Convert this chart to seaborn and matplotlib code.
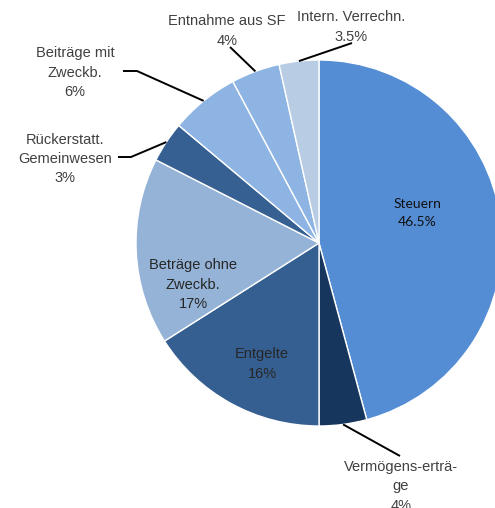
import numpy as np
import matplotlib
matplotlib.use("Agg")
import matplotlib.pyplot as plt
import seaborn as sns

# Anteile am Ertrag (%), im Uhrzeigersinn ab 12 Uhr
categories = [
    "Steuern",
    "Vermögens-erträ-\nge",
    "Entgelte",
    "Beträge ohne\nZweckb.",
    "Rückerstatt.\nGemeinwesen",
    "Beiträge mit\nZweckb.",
    "Entnahme aus SF",
    "Intern. Verrechn.",
]
# wedge sizes; printed labels are rounded
shares = [45.8, 4.2, 16.0, 16.5, 3.6, 6.1, 4.3, 3.5]
pct_labels = ["46.5%", "4%", "16%", "17%", "3%", "6%", "4%", "3.5%"]
colors = ["#548DD4", "#17365D", "#365F91", "#95B3D7",
          "#366092", "#8EB4E3", "#8EB4E3", "#B8CCE4"]

W, H = 495, 508
CX, CY, R = 319, 243, 183  # pixel geometry of the pie (y from top)


def fy(y):
    return H - y


def rim_point(i):
    start = sum(shares[:i])
    mid = (start + shares[i] / 2) / 100 * 2 * np.pi
    return CX + R * np.sin(mid), CY - R * np.cos(mid)


sns.set_theme(style="white")
plt.rcParams["font.family"] = ["Liberation Sans", "DejaVu Sans"]

fig = plt.figure(figsize=(W / 100, H / 100), dpi=100)
ax = fig.add_axes([0, 0, 1, 1])
ax.pie(
    shares,
    colors=colors,
    startangle=90,
    counterclock=False,
    center=(CX, fy(CY)),
    radius=R,
    wedgeprops={"edgecolor": "white", "linewidth": 1.0},
)
ax.set_xlim(0, W)
ax.set_ylim(0, H)
ax.set_aspect("equal")
ax.axis("off")

gray = "#404040"
fs = 10.5
ls = 1.5

# labels inside the wedges
inside = {0: (417, 213), 2: (262, 364), 3: (193, 285)}
for i, (x, y) in inside.items():
    if i == 0:
        ax.text(x, fy(y), f"{categories[i]}\n{pct_labels[i]}", ha="center", va="center",
                fontsize=10, color="#111111", family=["Lato", "DejaVu Sans"], linespacing=1.55)
    else:
        ax.text(x, fy(y), f"{categories[i]}\n{pct_labels[i]}", ha="center", va="center",
                fontsize=fs, color="#262626", linespacing=ls)

# outside labels with leader lines
outside = {
    1: ((401, 486), [(400, 456)]),
    4: ((65, 159), [(118, 157), (131, 157)]),
    5: ((75, 73), [(123, 71), (137, 71)]),
    6: ((227, 31), [(230, 47)]),
    7: ((351, 27), [(352, 43)]),
}
for i, ((x, y), pts) in outside.items():
    ax.text(x, fy(y), f"{categories[i]}\n{pct_labels[i]}", ha="center", va="center",
            fontsize=fs, color=gray, linespacing=ls)
    rx, ry = rim_point(i)
    xs = [p[0] for p in pts] + [rx]
    ys = [fy(p[1]) for p in pts] + [fy(ry)]
    ax.plot(xs, ys, color="black", linewidth=1.4, solid_capstyle="butt")

fig.savefig("out.png", dpi=100)
